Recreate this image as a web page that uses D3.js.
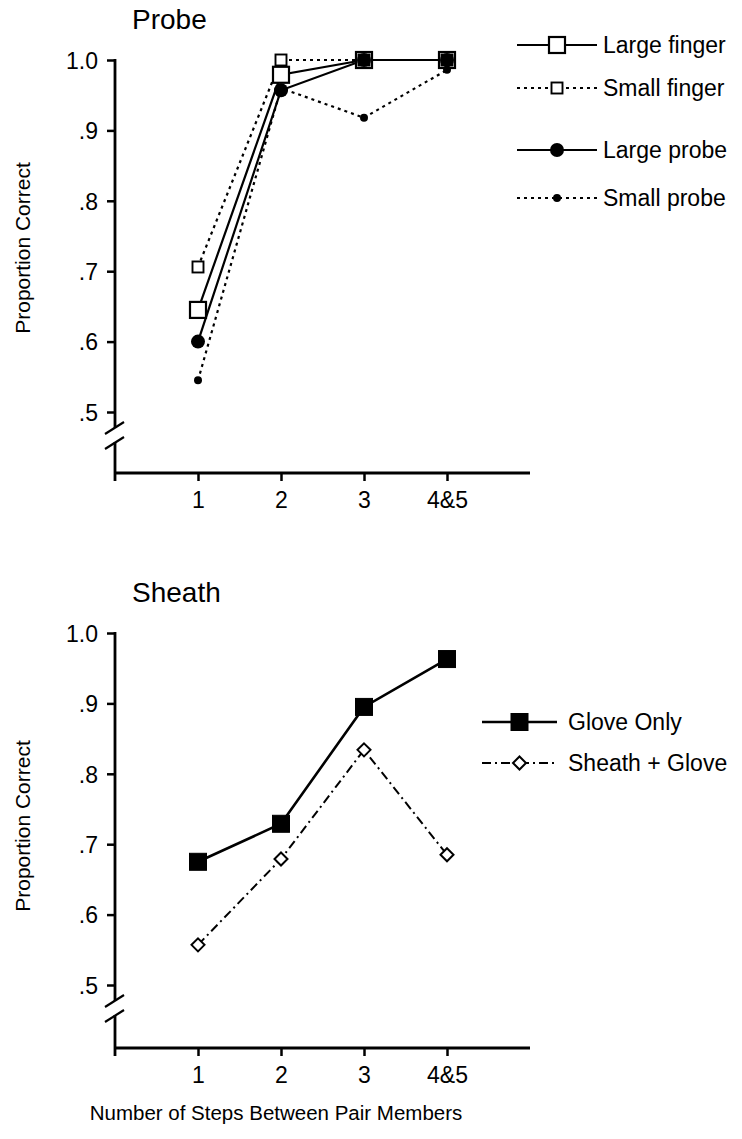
<!DOCTYPE html>
<html><head><meta charset="utf-8">
<script src="https://cdn.jsdelivr.net/npm/d3@7"></script>
<style>body{margin:0;background:#fff}svg{display:block}text{font-family:"Liberation Sans",Arial,Helvetica,sans-serif;fill:#000}</style>
</head><body>
<script>
const categories = ["1","2","3","4&5"];
const yTickValues = [0.5,0.6,0.7,0.8,0.9,1.0];
const yTickLabels = [".5",".6",".7",".8",".9","1.0"];
const largeFinger = [0.645,0.979,1.0,1.0];
const smallFinger = [0.706,1.0,1.0,1.0];
const largeProbe = [0.600,0.957,1.0,1.0];
const smallProbe = [0.545,0.960,0.918,0.986];
const gloveOnly = [0.675,0.729,0.895,0.963];
const sheathGlove = [0.557,0.679,0.834,0.685];

const W=742,H=1139;
const svg=d3.select("body").append("svg").attr("width",W).attr("height",H);
const x=d3.scaleLinear().domain([0,5]).range([115,530]);

function panel(opt){
  const g=svg.append("g");
  const y=d3.scaleLinear().domain([0.5,1.0]).range([opt.y05,opt.y10]);
  const ya=d3.axisLeft(y).tickValues(yTickValues).tickSize(8).tickSizeOuter(0)
    .tickFormat((d,i)=>yTickLabels[i]);
  const yg=g.append("g").attr("transform","translate(115,0)").call(ya);
  yg.select(".domain").remove();
  yg.selectAll("line").attr("stroke","#000").attr("stroke-width",2.5);
  yg.selectAll("text").attr("font-size",23).attr("x",-17).attr("dy","0.36em");
  const b=opt.y05+16;
  g.append("line").attr("x1",115).attr("x2",115).attr("y1",opt.y10-1).attr("y2",b).attr("stroke","#000").attr("stroke-width",2.8);
  g.append("line").attr("x1",115).attr("x2",115).attr("y1",b+14).attr("y2",opt.axisY+8).attr("stroke","#000").attr("stroke-width",2.8);
  [b,b+15].forEach(v=>g.append("line").attr("x1",105).attr("y1",v+6).attr("x2",124).attr("y2",v-6).attr("stroke","#000").attr("stroke-width",2.2));
  const xa=d3.axisBottom(x).tickValues([1,2,3,4]).tickSize(8).tickSizeOuter(0).tickFormat(d=>categories[d-1]);
  const xg=g.append("g").attr("transform",`translate(0,${opt.axisY})`).call(xa);
  xg.select(".domain").remove();
  xg.selectAll("line").attr("stroke","#000").attr("stroke-width",2.5);
  xg.selectAll("text").attr("font-size",23).attr("dy","1.05em");
  g.append("line").attr("x1",114).attr("x2",530).attr("y1",opt.axisY).attr("y2",opt.axisY).attr("stroke","#000").attr("stroke-width",2.8);
  g.append("text").attr("x",132).attr("y",opt.y10-31).attr("font-size",28).text(opt.title);
  g.append("text").attr("transform",`translate(30,${opt.labelY}) rotate(-90)`).attr("text-anchor","middle").attr("font-size",21).text("Proportion Correct");
  return {g,y};
}

function series(g,y,vals,style){
  const line=d3.line().x((d,i)=>x(i+1)).y(d=>y(d));
  g.append("path").attr("d",line(vals)).attr("fill","none").attr("stroke","#000")
   .attr("stroke-width",style.sw).attr("stroke-dasharray",style.dash||null);
}
function markers(g,y,vals,m){
  vals.forEach((d,i)=>drawMarker(g,x(i+1),y(d),m));
}
function drawMarker(g,cx,cy,m){
  if(m.type==="square"){
    g.append("rect").attr("x",cx-m.s/2).attr("y",cy-m.s/2).attr("width",m.s).attr("height",m.s)
     .attr("fill",m.fill).attr("stroke","#000").attr("stroke-width",m.sw);
  }else if(m.type==="circle"){
    g.append("circle").attr("cx",cx).attr("cy",cy).attr("r",m.r).attr("fill","#000");
  }else if(m.type==="diamond"){
    const s=m.s/2;
    g.append("path").attr("d",`M${cx},${cy-s}L${cx+s},${cy}L${cx},${cy+s}L${cx-s},${cy}Z`)
     .attr("fill","#fff").attr("stroke","#000").attr("stroke-width",m.sw);
  }
}
function legendItem(g,x1,x2,yy,style,m,label,tx){
  g.append("line").attr("x1",x1).attr("x2",x2).attr("y1",yy).attr("y2",yy).attr("stroke","#000")
   .attr("stroke-width",style.sw).attr("stroke-dasharray",style.dash||null);
  drawMarker(g,(x1+x2)/2,yy,m);
  g.append("text").attr("x",tx).attr("y",yy).attr("dy","0.36em").attr("font-size",23).text(label);
}

const topP=panel({y10:60,y05:412,axisY:473,title:"Probe",labelY:248});
const solid={sw:2.2}, dotted={sw:2.2,dash:"3,4"};
const mLF={type:"square",s:16,fill:"#fff",sw:2.2},mSF={type:"square",s:11,fill:"#fff",sw:1.9};
const mLP={type:"circle",r:7},mSP={type:"circle",r:4};
series(topP.g,topP.y,smallFinger,dotted);
series(topP.g,topP.y,smallProbe,dotted);
series(topP.g,topP.y,largeFinger,solid);
series(topP.g,topP.y,largeProbe,solid);
markers(topP.g,topP.y,largeFinger,mLF);
markers(topP.g,topP.y,smallFinger,mSF);
markers(topP.g,topP.y,largeProbe,mLP);
markers(topP.g,topP.y,smallProbe,mSP);
legendItem(topP.g,517,597,45,solid,mLF,"Large finger",603);
legendItem(topP.g,517,597,88,dotted,mSF,"Small finger",603);
legendItem(topP.g,517,597,150,solid,mLP,"Large probe",603);
legendItem(topP.g,517,597,198,dotted,mSP,"Small probe",603);

const botP=panel({y10:633,y05:985,axisY:1048,title:"Sheath",labelY:826});
const dashdot={sw:2,dash:"9,4,2,4"};
const mGO={type:"square",s:17,fill:"#000",sw:1},mSG={type:"diamond",s:13,sw:2};
series(botP.g,botP.y,sheathGlove,dashdot);
series(botP.g,botP.y,gloveOnly,{sw:2.6});
markers(botP.g,botP.y,gloveOnly,mGO);
markers(botP.g,botP.y,sheathGlove,mSG);
legendItem(botP.g,482,557,722,{sw:2.6},mGO,"Glove Only",568);
legendItem(botP.g,482,557,763,dashdot,mSG,"Sheath + Glove",568);

svg.append("text").attr("x",276).attr("y",1120).attr("text-anchor","middle").attr("font-size",20.5)
  .text("Number of Steps Between Pair Members");
</script>
</body></html>
